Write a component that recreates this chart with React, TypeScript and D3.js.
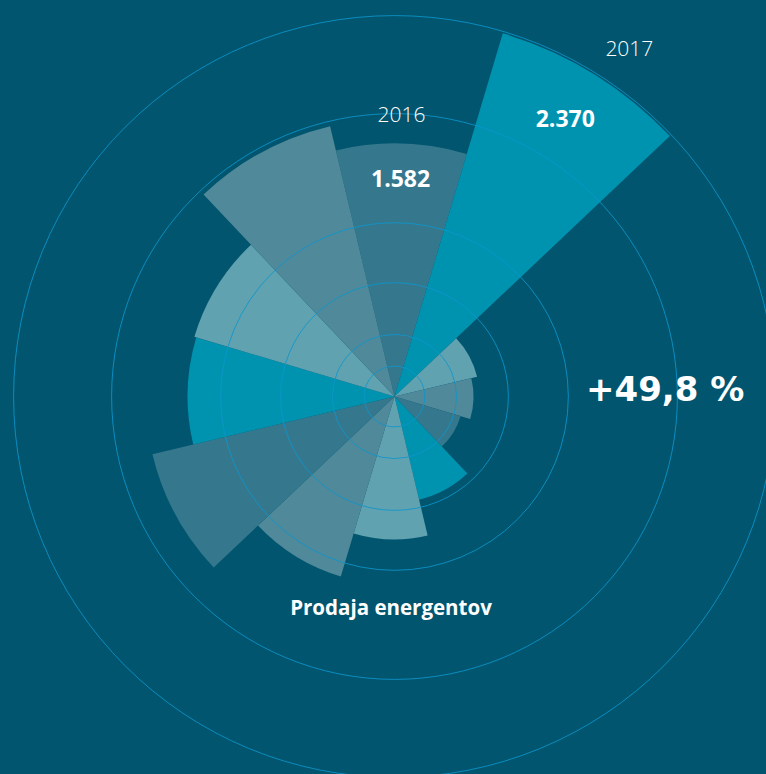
import React, { useRef, useEffect } from "react";
import * as d3 from "d3";

// wedges clockwise, starting with the 2016 wedge at the top
const segments = ["A", "B", "C", "D", "E", "F", "G", "H", "I", "J", "K", "L"];
const values = [1582, 2370, 531, 494, 431, 663, 894, 1175, 1556, 1294, 1306, 1738];
const palette = ["#35788e", "#0093b0", "#61a2b1", "#4f899a"];
const ringValues = [190, 388, 712, 1087, 1769, 2382];
const yearLabels = [
  { seg: "A", text: "2016" },
  { seg: "B", text: "2017" },
];

const WIDTH = 766;
const HEIGHT = 774;
const BG = "#01556f";
const FONT = "'Open Sans', sans-serif";

const App: React.FC = () => {
  const svgRef = useRef<SVGSVGElement | null>(null);

  useEffect(() => {
    if (!svgRef.current) return;
    const svg = d3.select(svgRef.current);
    svg.selectAll("*").remove();

    const cx = 394.5;
    const cy = 396.5;
    const startOffset = (-13.4 * Math.PI) / 180;

    const r = d3.scaleLinear().domain([0, 2370]).range([0, 379]);
    const angle = d3
      .scaleBand<string>()
      .domain(segments)
      .range([startOffset, startOffset + 2 * Math.PI])
      .padding(0);
    const color = d3.scaleOrdinal<number, string>().domain([0, 1, 2, 3]).range(palette);

    svg.append("rect").attr("width", WIDTH).attr("height", HEIGHT).attr("fill", BG);

    const g = svg.append("g").attr("transform", `translate(${cx},${cy})`);

    const arc = d3
      .arc<{ seg: string; value: number }>()
      .innerRadius(0)
      .outerRadius((d) => r(d.value))
      .startAngle((d) => angle(d.seg)!)
      .endAngle((d) => angle(d.seg)! + angle.bandwidth());

    const data = segments.map((seg, i) => ({ seg, value: values[i] }));

    g.selectAll(".wedge")
      .data(data)
      .join("path")
      .attr("class", "wedge")
      .attr("d", arc)
      .attr("fill", (d, i) => color(i % 4));

    // rings
    g.selectAll(".ring")
      .data(ringValues)
      .join("circle")
      .attr("class", "ring")
      .attr("r", (d) => r(d))
      .attr("fill", "none")
      .attr("stroke", "#0d95cb")
      .attr("stroke-opacity", 0.85)
      .attr("stroke-width", 1);

    const polar = (a: number, rad: number) => [Math.sin(a) * rad, -Math.cos(a) * rad];

    // value labels on the two highlighted wedges
    data.slice(0, 2).forEach((d) => {
      const mid = angle(d.seg)! + angle.bandwidth() / 2;
      const [x, y] = polar(mid, r(d.value) * 0.86);
      g.append("text")
        .attr("x", x)
        .attr("y", y)
        .attr("dy", "0.36em")
        .attr("text-anchor", "middle")
        .attr("font-family", FONT)
        .attr("font-weight", 700)
        .attr("font-size", 23)
        .attr("fill", "#ffffff")
        .text(d3.format(",")(d.value).replace(",", "."));
    });

    // year labels just outside the wedges
    const yearOffsets: Record<string, { da: number; dr: number }> = {
      A: { da: -0.2, dr: 29 },
      B: { da: 2.4, dr: 41 },
    };
    yearLabels.forEach((l) => {
      const i = segments.indexOf(l.seg);
      const mid = angle(l.seg)! + angle.bandwidth() / 2 + (yearOffsets[l.seg].da * Math.PI) / 180;
      const [x, y] = polar(mid, r(values[i]) + yearOffsets[l.seg].dr);
      g.append("text")
        .attr("x", x)
        .attr("y", y)
        .attr("dy", "0.36em")
        .attr("text-anchor", "middle")
        .attr("font-family", FONT)
        .attr("font-weight", 300)
        .attr("font-size", 21)
        .attr("fill", "#ffffff")
        .text(l.text);
    });

    // growth figure
    const growth = ((values[1] - values[0]) / values[0]) * 100;
    svg
      .append("text")
      .attr("x", 586)
      .attr("y", 401)
      .attr("font-family", "'DejaVu Sans', sans-serif")
      .attr("font-weight", 700)
      .attr("font-size", 34)
      .attr("fill", "#ffffff")
      .text(`+${growth.toFixed(1).replace(".", ",")} %`);

    svg
      .append("text")
      .attr("x", 391)
      .attr("y", 615)
      .attr("text-anchor", "middle")
      .attr("font-family", FONT)
      .attr("font-weight", 700)
      .attr("font-size", 20.5)
      .attr("fill", "#ffffff")
      .text("Prodaja energentov");
  }, []);

  return (
    <svg
      ref={svgRef}
      width={WIDTH}
      height={HEIGHT}
      style={{ position: "absolute", left: 0, top: 0, display: "block" }}
    />
  );
};

export default App;
